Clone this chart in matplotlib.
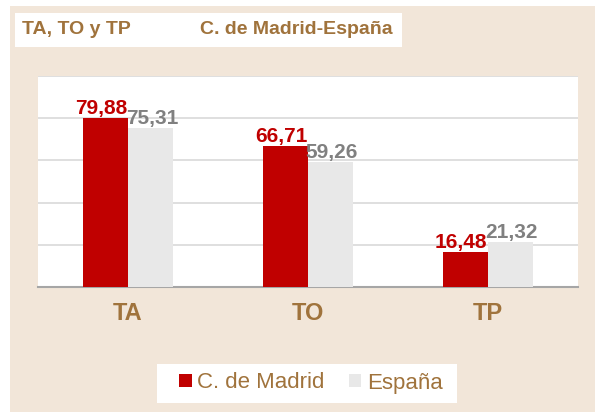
import matplotlib.pyplot as plt
from matplotlib.patches import Rectangle
import numpy as np

plt.rcParams['font.family'] = ['Liberation Sans', 'DejaVu Sans']

categories = ['TA', 'TO', 'TP']
madrid = [79.88, 66.71, 16.48]
espana = [75.31, 59.26, 21.32]
series_names = ['C. de Madrid', 'España']

brown = '#A0733C'
red = '#C00000'
light = '#E8E8E8'
beige = '#F2E6D9'

fig = plt.figure(figsize=(5.95, 4.12), dpi=100)
fig.patch.set_facecolor('white')

# beige background panel
fig.add_artist(Rectangle((10 / 595, 0), 585 / 595, 406 / 412,
                         transform=fig.transFigure, facecolor=beige,
                         edgecolor='none', zorder=0))
# white title box
fig.add_artist(Rectangle((15 / 595, 1 - 47 / 412), 387 / 595, 34 / 412,
                         transform=fig.transFigure, facecolor='white',
                         edgecolor='none', zorder=1))
fig.text(22 / 595, 1 - 30 / 412, 'TA, TO y TP', color=brown, fontsize=14,
         fontweight='bold', va='center', ha='left', zorder=2)
fig.text(200 / 595, 1 - 30 / 412, 'C. de Madrid-España', color=brown, fontsize=14,
         fontweight='bold', va='center', ha='left', zorder=2)

ax = fig.add_axes([38 / 595, 1 - 287 / 412, 540 / 595, 211 / 412])
ax.set_facecolor('white')
x = np.arange(len(categories))
w = 0.25
b1 = ax.bar(x - w / 2, madrid, w, color=red, zorder=3, label=series_names[0])
b2 = ax.bar(x + w / 2, espana, w, color=light, zorder=3, label=series_names[1])

fmt = lambda v: f'{v:.2f}'.replace('.', ',')
# labels nudged apart so they don't collide, like the original
for xi, v in zip(x - w / 2, madrid):
    ax.annotate(fmt(v), (xi, v), xytext=(-3, 0), textcoords='offset points',
                ha='center', va='bottom', color=red, fontsize=15,
                fontweight='bold', zorder=5)
for xi, v in zip(x + w / 2, espana):
    ax.annotate(fmt(v), (xi, v), xytext=(1, 0), textcoords='offset points',
                ha='center', va='bottom', color='#808080', fontsize=15,
                fontweight='bold', zorder=4)

ax.set_xlim(-0.5, 2.5)
ax.set_ylim(0, 100)
ax.set_yticks(np.arange(0, 101, 20))
ax.yaxis.grid(True, color='#D9D9D9', linewidth=1.2, zorder=0)
ax.tick_params(axis='y', left=False, labelleft=False)
ax.set_xticks(x)
ax.set_xticklabels(categories, color=brown, fontsize=17, fontweight='bold')
ax.tick_params(axis='x', length=0, pad=11)
for s in ['top', 'right', 'left']:
    ax.spines[s].set_visible(False)
ax.spines['bottom'].set_color('#A6A6A6')
ax.spines['bottom'].set_linewidth(1.5)

# legend box
fig.add_artist(Rectangle((157 / 595, 1 - 403 / 412), 300 / 595, 39 / 412,
                         transform=fig.transFigure, facecolor='white',
                         edgecolor='none', zorder=1))
leg = fig.legend(loc='center', bbox_to_anchor=(311 / 595, 1 - 383 / 412),
                 ncol=2, frameon=False, fontsize=16, handlelength=0.55,
                 handleheight=0.55, handletextpad=0.25, columnspacing=1.1,
                 borderpad=0, borderaxespad=0)
for t in leg.get_texts():
    t.set_color(brown)

fig.savefig('out.png', dpi=100, facecolor=fig.get_facecolor())
